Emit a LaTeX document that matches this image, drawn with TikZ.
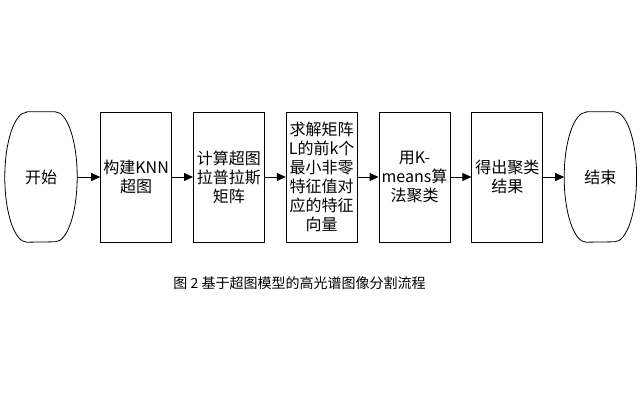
\documentclass[tikz,border=0pt]{standalone}
\usepackage{fontspec}
\newfontfamily\cjk{Noto Sans CJK SC}
\usetikzlibrary{arrows.meta,positioning,calc}

\begin{document}
\begin{tikzpicture}[x=1pt, y=-1pt,
  blk/.style={draw, line width=0.8pt, align=center, font=\cjk\fontsize{16}{19}\selectfont, minimum width=71pt, minimum height=130pt, inner sep=0pt},
  term/.style={align=center, font=\cjk\fontsize{16}{19}\selectfont, minimum width=72pt, minimum height=130pt, inner sep=0pt},
  flow/.style={-{Triangle[length=9pt, width=8pt]}, line width=0.8pt},
  node distance=21pt]
\useasboundingbox (0,0) rectangle (641,403);
\node[term] (start) at (41,177) {开始};
\node[blk, right=23pt of start] (b1) {构建KNN\\超图};
\node[blk, right=of b1] (b2) {计算超图\\拉普拉斯\\矩阵};
\node[blk, right=of b2] (b3) {求解矩阵\\L的前k个\\最小非零\\特征值对\\应的特征\\向量};
\node[blk, right=of b3] (b4) {用K-\\means算\\法聚类};
\node[blk, right=of b4] (b5) {得出聚类\\结果};
\node[term, right=of b5] (stop) {结束};
% terminator outlines
\foreach \t in {start, stop}
  \draw[line width=0.8pt] ($(\t.north west)+(22,0)$) -- ($(\t.north east)+(-22,0)$)
    arc[start angle=90, end angle=-90, x radius=22, y radius=-65]
    -- ($(\t.south west)+(22,0)$)
    arc[start angle=270, end angle=90, x radius=22, y radius=-65] -- cycle;
\draw[flow] (start) -- (b1);
\draw[flow] (b1) -- (b2);
\draw[flow] (b2) -- (b3);
\draw[flow] (b3) -- (b4);
\draw[flow] (b4) -- (b5);
\draw[flow] (b5) -- (stop);
\node[font=\cjk\fontsize{14}{16}\selectfont] (cap) at (299.5,283) {图 2 基于超图模型的高光谱图像分割流程};
\end{tikzpicture}
\end{document}
